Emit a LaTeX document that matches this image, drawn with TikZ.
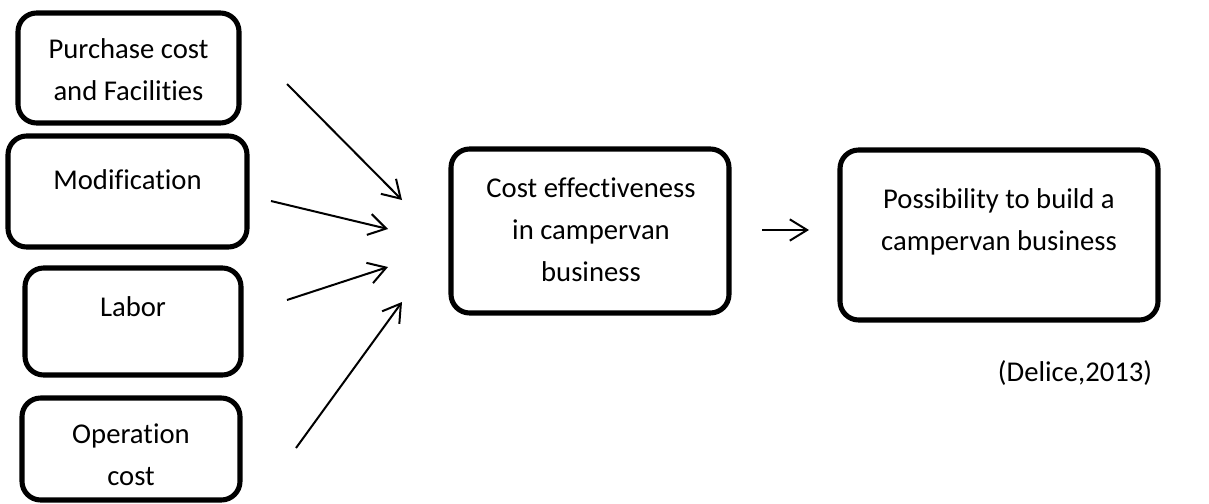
\documentclass[tikz,border=0pt]{standalone}
\usepackage{fontspec}
\setmainfont{Carlito}[Ligatures=NoCommon]
\usepackage{tikz}
\usetikzlibrary{arrows.meta}
\usetikzlibrary{positioning}

\begin{document}
\begin{tikzpicture}[
	x=0.75pt, y=-0.75pt,
	> = {Straight Barb[length=13pt,width=16pt]},
	box/.style = {draw, line width=3.8pt, rounded corners=14pt, inner sep=0pt},
	boxsize/.style 2 args = {minimum width=#1*0.75pt, minimum height=#2*0.75pt},
	txt/.style = {align=center, inner sep=0pt, font=\fontsize{21.5}{31.5}\selectfont},
	arr/.style = {->, line width=1.5pt}
	]

	\useasboundingbox (0,0) rectangle (1209,503);

	% left column
	\node[box, boxsize={221}{110}] (purchase) at (128.5,68) {};
	\node[box, boxsize={239}{111}] (modif) at (127.5,191.5) {};
	\node[box, boxsize={216}{107}] (labor) at (133,321.5) {};
	\node[box, boxsize={218}{102}] (operation) at (131,449) {};

	\node[txt] (purchase-t) at (128.5,70) {Purchase cost\\and Facilities};
	\node[txt] (modif-t) at (127.5,180) {Modification};
	\node[txt] (labor-t) at (133,307) {Labor};
	\node[txt] (operation-t) at (131,455) {Operation\\cost};

	% middle and right
	\node[box, boxsize={278}{164}] (effect) at (590,231) {};
	\node[box, boxsize={318}{170}] (possib) at (999,235) {};

	\node[txt] (effect-t) at (591,230) {Cost effectiveness\\in campervan\\business};
	\node[txt] (possib-t) at (999,222) {Possibility to build a\\campervan business};

	\node[txt] (source) at (1075,373) {(Delice,2013)};

	% arrows
	\coordinate (p1) at (287,84);
	\coordinate (q1) at (402,200);
	\coordinate (p2) at (271,201);
	\coordinate (q2) at (388,229);
	\coordinate (p3) at (287,300);
	\coordinate (q3) at (388,267);
	\coordinate (p4) at (296,448);
	\coordinate (q4) at (402,302);
	\coordinate (p5) at (762,230);
	\coordinate (q5) at (809,230);

	\draw[arr] (p1) -- (q1);
	\draw[arr] (p2) -- (q2);
	\draw[arr] (p3) -- (q3);
	\draw[arr] (p4) -- (q4);
	\draw[arr] (p5) -- (q5);

\end{tikzpicture}
\end{document}
